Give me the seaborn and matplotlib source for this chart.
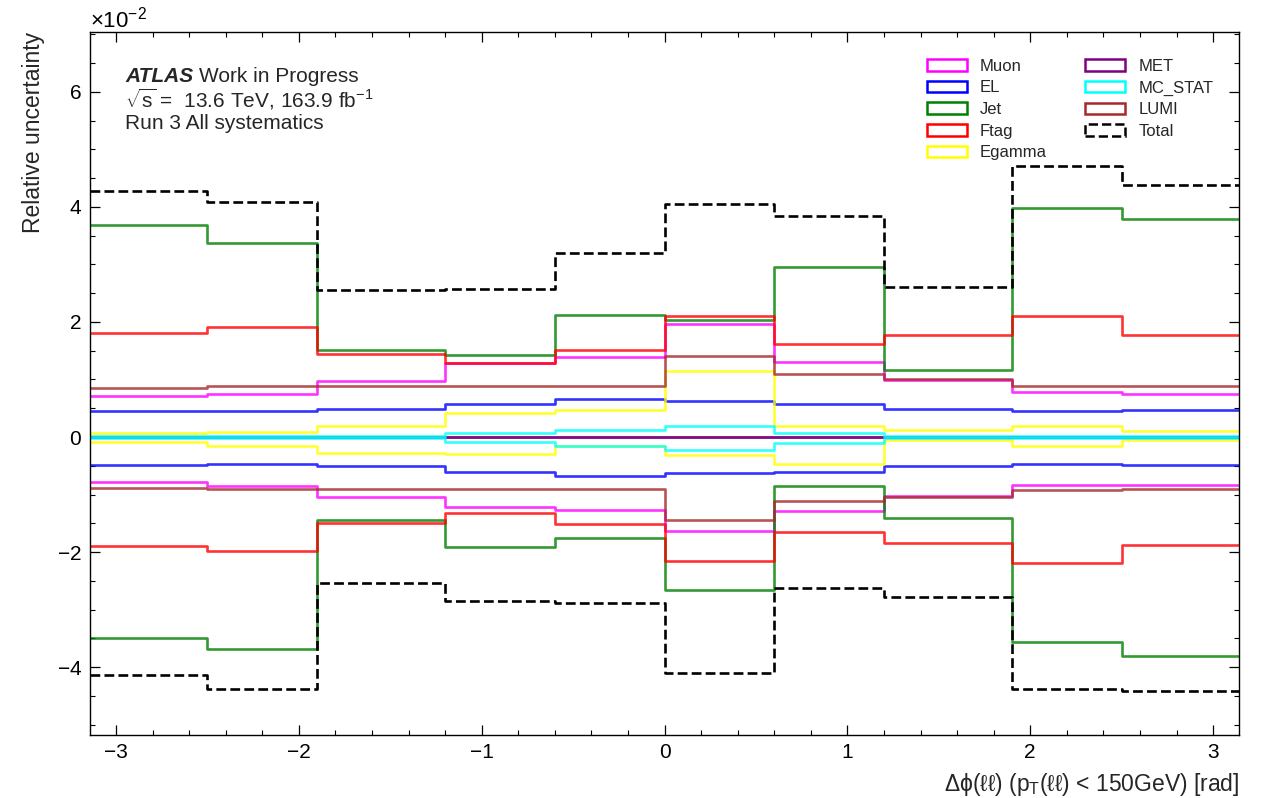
import numpy as np
import pandas as pd
import matplotlib
matplotlib.use("Agg")
import matplotlib.pyplot as plt
import seaborn as sns
from matplotlib.patches import Patch
from matplotlib.ticker import MultipleLocator

# Binning in delta-phi(ll) [rad]
bin_edges = [-np.pi, -2.5, -1.9, -1.2, -0.6, 0.0, 0.6, 1.2, 1.9, 2.5, np.pi]

# Relative uncertainties per bin, in units of 1e-2 (upward / downward variations)
muon_up = [0.72, 0.75, 0.98, 1.28, 1.385, 1.97, 1.30, 0.99, 0.775, 0.75]
muon_down = [-0.78, -0.845, -1.04, -1.22, -1.27, -1.63, -1.29, -1.03, -0.83, -0.83]

el_up = [0.46, 0.45, 0.49, 0.58, 0.665, 0.62, 0.575, 0.485, 0.445, 0.47]
el_down = [-0.48, -0.47, -0.51, -0.60, -0.68, -0.63, -0.60, -0.51, -0.47, -0.48]

jet_up = [3.68, 3.37, 1.52, 1.42, 2.12, 2.03, 2.96, 1.16, 3.99, 3.79]
jet_down = [-3.49, -3.68, -1.44, -1.92, -1.76, -2.66, -0.86, -1.41, -3.56, -3.80]

ftag_up = [1.80, 1.91, 1.45, 1.28, 1.52, 2.10, 1.62, 1.78, 2.10, 1.78]
ftag_down = [-1.89, -1.98, -1.49, -1.32, -1.52, -2.15, -1.66, -1.85, -2.19, -1.87]

egamma_up = [0.07, 0.08, 0.20, 0.415, 0.47, 1.15, 0.19, 0.13, 0.20, 0.11]
egamma_down = [-0.08, -0.15, -0.28, -0.29, -0.16, -0.32, -0.47, -0.06, -0.15, -0.05]

met_up = [0.0, 0.0, 0.0, 0.0, 0.0, 0.0, 0.0, 0.0, 0.0, 0.0]
met_down = [0.0, 0.0, 0.0, 0.0, 0.0, 0.0, 0.0, 0.0, 0.0, 0.0]

mcstat_up = [0.02, 0.02, 0.02, 0.07, 0.125, 0.19, 0.07, 0.02, 0.02, 0.02]
mcstat_down = [-0.02, -0.02, -0.02, -0.09, -0.15, -0.22, -0.11, -0.02, -0.02, -0.02]

lumi_up = [0.86, 0.88, 0.88, 0.89, 0.88, 1.40, 1.10, 1.00, 0.89, 0.88]
lumi_down = [-0.885, -0.90, -0.91, -0.90, -0.90, -1.44, -1.12, -1.04, -0.915, -0.90]

total_up = [4.28, 4.08, 2.55, 2.57, 3.20, 4.05, 3.84, 2.61, 4.71, 4.39]
total_down = [-4.14, -4.38, -2.54, -2.85, -2.88, -4.11, -2.62, -2.78, -4.38, -4.42]

sources = ["Muon", "EL", "Jet", "Ftag", "Egamma", "MET", "MC_STAT", "LUMI", "Total"]
colors = ["magenta", "blue", "green", "red", "yellow", "purple", "cyan", "brown", "black"]
ups = [muon_up, el_up, jet_up, ftag_up, egamma_up, met_up, mcstat_up, lumi_up, total_up]
downs = [muon_down, el_down, jet_down, ftag_down, egamma_down, met_down, mcstat_down,
         lumi_down, total_down]

sns.set_theme(style="ticks")
plt.rcParams["font.family"] = ["Liberation Sans", "DejaVu Sans"]
plt.rcParams["mathtext.fontset"] = "custom"
plt.rcParams["mathtext.rm"] = "Liberation Sans"
plt.rcParams["mathtext.it"] = "Liberation Sans"
plt.rcParams["mathtext.bf"] = "Liberation Sans:bold"
plt.rcParams["axes.edgecolor"] = "black"
plt.rcParams["axes.linewidth"] = 1.0

fig = plt.figure(figsize=(12.63, 7.98), dpi=100)
ax = fig.add_axes([0.0713, 0.079, 0.9097, 0.8808])

edges = np.array(bin_edges)
centers = 0.5 * (edges[:-1] + edges[1:])
scale = 1e-2

for name, color, up, down in zip(sources, colors, ups, downs):
    ls = "--" if name == "Total" else "-"
    alpha = 1.0 if name == "Total" else 0.8
    for vals in (up, down):
        df = pd.DataFrame({"dphi": centers, "unc": np.asarray(vals) * scale})
        sns.histplot(data=df, x="dphi", weights="unc", bins=list(bin_edges),
                     element="step", fill=False, color=color, linewidth=1.9,
                     linestyle=ls, alpha=alpha, ax=ax)

ax.set_xlim(-np.pi, np.pi)
ax.set_ylim(-0.0518, 0.0704)

ax.xaxis.set_major_locator(MultipleLocator(1))
ax.xaxis.set_minor_locator(MultipleLocator(0.2))
ax.yaxis.set_major_locator(MultipleLocator(0.02))
ax.yaxis.set_minor_locator(MultipleLocator(0.005))
ax.ticklabel_format(axis="y", style="sci", scilimits=(-2, -2), useMathText=True)
ax.yaxis.get_offset_text().set_fontsize(16)

ax.tick_params(which="both", direction="in", top=True, right=True, colors="black",
               labelsize=15, pad=6)
ax.tick_params(which="major", length=7, width=0.9)
ax.tick_params(which="minor", length=3.5, width=0.8)

ax.set_xlabel(r"$\Delta\phi(\ell\ell)$ ($p_{\mathrm{T}}(\ell\ell)$ < 150GeV) [rad]",
              fontsize=16.5, loc="right", labelpad=6)
ax.set_ylabel("Relative uncertainty", fontsize=16.5, loc="top", labelpad=8)

# Experiment label block
t_atlas = ax.text(0.0305, 0.929, "ATLAS", transform=ax.transAxes, fontsize=15,
                  fontweight="bold", fontstyle="italic", va="baseline", ha="left")
ax.annotate("Work in Progress", xy=(1, 0), xycoords=t_atlas, xytext=(4, 0),
            textcoords="offset points", fontsize=15, va="bottom", ha="left")
ax.text(0.0305, 0.892, r"$\sqrt{s}$ =  13.6 TeV, 163.9 fb$^{-1}$",
        transform=ax.transAxes, fontsize=15, va="baseline", ha="left")
ax.text(0.0305, 0.862, "Run 3 All systematics", transform=ax.transAxes,
        fontsize=15, va="baseline", ha="left")

handles = [Patch(facecolor="none", edgecolor=c, linewidth=1.8,
                 linestyle="--" if n == "Total" else "-", label=n)
           for n, c in zip(sources, colors)]
ax.legend(handles=handles, ncol=2, loc="upper right", bbox_to_anchor=(0.978, 0.962),
          frameon=False, fontsize=12, handlelength=2.4, handleheight=0.7,
          handletextpad=0.8, columnspacing=2.3, labelspacing=0.4,
          borderpad=0, borderaxespad=0)

fig.savefig("out.png", dpi=100)
